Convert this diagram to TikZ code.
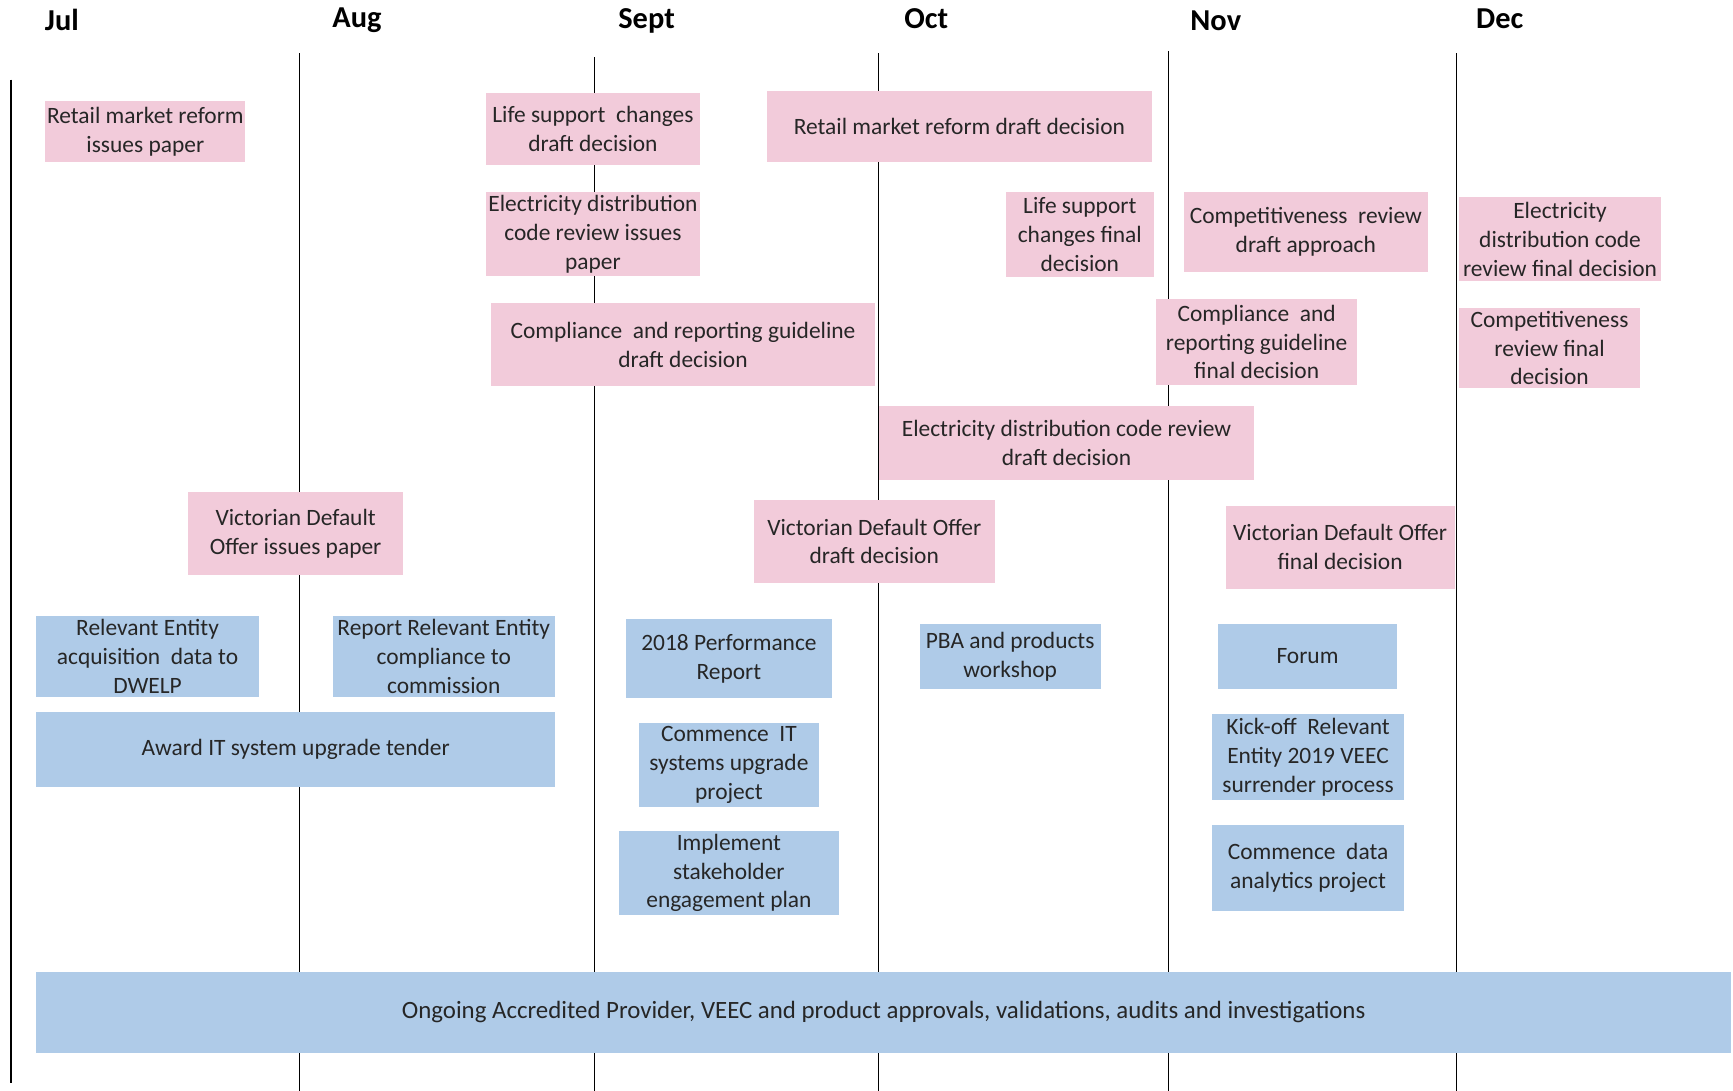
\documentclass[tikz,border=0pt]{standalone}
\usepackage{fontspec}
\setmainfont{Carlito}
\definecolor{pinkfill}{HTML}{F2CBDA}
\definecolor{bluefill}{HTML}{AFCBE8}
\definecolor{txt}{HTML}{262626}
\tikzset{
  ev/.style={rectangle, inner sep=0pt, align=center, text=txt,
    font=\fontsize{21.2}{26}\selectfont},
  pinkbox/.style={ev, fill=pinkfill},
  bluebox/.style={ev, fill=bluefill},
  month/.style={inner sep=0pt, text=black, font=\fontsize{27.5}{30}\selectfont\bfseries},
  divider/.style={line width=1.3pt, black}
}
\newcommand{\bx}[6]{\node[#1, minimum width=#4pt, minimum height=#5pt] (#6) at (#2,#3)}
\begin{document}
\begin{tikzpicture}[x=1pt,y=-1pt]
\useasboundingbox (0,0) rectangle (1568,987);
\fill[white] (0,0) rectangle (1568,987);
% month labels
\node[month] (mjul) at (56,18) {Jul};
\node[month] (maug) at (323,18) {Aug};
\node[month] (msep) at (585,19) {Sept};
\node[month] (moct) at (838,17) {Oct};
\node[month] (mnov) at (1100,19) {Nov};
\node[month] (mdec) at (1357,17) {Dec};
% divider lines
\coordinate (l0t) at (10,72);   \coordinate (l0b) at (10,980);
\coordinate (l1t) at (271,48);  \coordinate (l1b) at (271,987);
\coordinate (l2t) at (538,52);  \coordinate (l2b) at (538,987);
\coordinate (l3t) at (795,48);  \coordinate (l3b) at (795,987);
\coordinate (l4t) at (1057,46); \coordinate (l4b) at (1057,987);
\coordinate (l5t) at (1318,48); \coordinate (l5b) at (1318,987);
\foreach \i in {0,...,5} {\draw[divider] (l\i t) -- (l\i b);}
% pink boxes
\bx{pinkbox}{131.5}{119}{181}{55}{rmi} {Retail market reform\\issues paper};
\bx{pinkbox}{536.5}{117}{193}{65}{lsd} {Life support \ changes\\draft decision};
\bx{pinkbox}{868}{114.5}{348}{64}{rmd} {Retail market reform draft decision};
\bx{pinkbox}{536.5}{212}{193}{76}{edi} {Electricity distribution\\code review issues\\paper};
\bx{pinkbox}{977}{212}{134}{77}{lsf} {Life support\\changes final\\decision};
\bx{pinkbox}{1181.5}{210}{221}{73}{crd} {Competitiveness \ review\\draft approach};
\bx{pinkbox}{1411.5}{216.5}{183}{76}{edf} {Electricity\\distribution code\\review final decision};
\bx{pinkbox}{618}{312}{348}{75}{crg} {Compliance \ and reporting guideline\\draft decision};
\bx{pinkbox}{1137}{309.5}{182}{78}{crf} {Compliance \ and\\reporting guideline\\final decision};
\bx{pinkbox}{1402}{315}{164}{73}{cfd} {Competitiveness\\review final\\decision};
\bx{pinkbox}{965}{401}{340}{67}{edd} {Electricity distribution code review\\draft decision};
\bx{pinkbox}{267.5}{483}{195}{75}{vdi} {Victorian Default\\Offer issues paper};
\bx{pinkbox}{791}{490}{218}{75}{vdd} {Victorian Default Offer\\draft decision};
\bx{pinkbox}{1212.5}{495}{207}{75}{vdf} {Victorian Default Offer\\final decision};
% blue boxes
\bx{bluebox}{133.5}{594}{201}{74}{rea} {Relevant Entity\\acquisition \ data to\\DWELP};
\bx{bluebox}{401.5}{594}{201}{74}{rrc} {Report Relevant Entity\\compliance to\\commission};
\bx{bluebox}{267.5}{678}{469}{68}{award} {Award IT system upgrade tender};
\bx{bluebox}{659.5}{596}{187}{71}{perf} {2018 Performance\\Report};
\bx{bluebox}{659.5}{692}{163}{76}{cit} {Commence \ IT\\systems upgrade\\project};
\bx{bluebox}{659.5}{790}{199}{76}{isp} {Implement\\stakeholder\\engagement plan};
\bx{bluebox}{914}{594}{164}{59}{pba} {PBA and products\\workshop};
\bx{bluebox}{1183}{594}{162}{59}{forum} {Forum};
\bx{bluebox}{1183.5}{685}{173}{78}{kick} {Kick-off \ Relevant\\Entity 2019 VEEC\\surrender process};
\bx{bluebox}{1183.5}{785}{173}{78}{cda} {Commence \ data\\analytics project};
\bx{bluebox}{799.5}{916}{1533}{74}{ongoing} {\fontsize{22.5}{26}\selectfont Ongoing Accredited Provider, VEEC and product approvals, validations, audits and investigations};
\end{tikzpicture}
\end{document}
